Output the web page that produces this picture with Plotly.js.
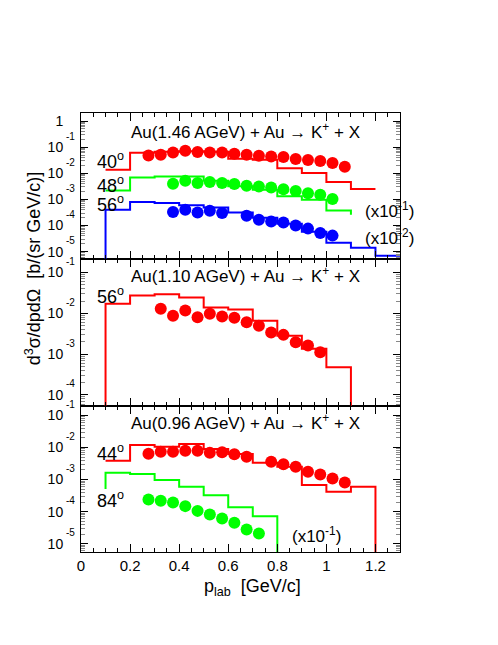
<!DOCTYPE html>
<html>
<head>
<meta charset="utf-8">
<script src="https://cdn.plot.ly/plotly-3.0.1.min.js"></script>
<style>
  html, body { margin: 0; padding: 0; background: #fff; }
  #chart { width: 498px; height: 645px; }
</style>
</head>
<body>
<div id="chart"></div>
<script>
// ---- Au(1.46 AGeV) + Au (top panel), b/(sr GeV/c) as plotted ----
const top40Edges = [0.1, 0.2, 0.3, 0.4, 0.5, 0.6, 0.7, 0.8, 0.9, 1.0, 1.1, 1.2];
const top40Hist  = [0.0136, 0.0610, 0.0667, 0.0697, 0.0667, 0.0360, 0.0329, 0.0155, 0.0102, 0.00460, 0.00248];
const top48Edges = [0.1, 0.2, 0.3, 0.4, 0.5, 0.6, 0.7, 0.8, 0.9, 1.0, 1.1];
const top48Hist  = [0.00219, 0.00690, 0.00754, 0.00754, 0.00516, 0.00318, 0.00233, 0.00131, 0.000966, 0.000376];
const top56Edges = [0.1, 0.2, 0.3, 0.4, 0.5, 0.6, 0.7, 0.8, 0.9, 1.0, 1.1, 1.2, 1.3];
const top56Hist  = [0.000400, 0.000788, 0.000722, 0.000594, 0.000490, 0.000315, 0.000197, 0.000116, 0.0000574, 0.0000217, 0.0000140, 0.0000069];

const top40P = [0.275, 0.325, 0.375, 0.425, 0.475, 0.525, 0.575, 0.625, 0.675, 0.725, 0.775, 0.825, 0.875, 0.925, 0.975, 1.025, 1.075];
const top40Y = [0.0481, 0.0512, 0.0627, 0.0728, 0.0649, 0.0627, 0.0627, 0.0558, 0.0512, 0.0468, 0.0441, 0.0422, 0.0353, 0.0321, 0.0293, 0.0246, 0.0177];
const top48P = [0.375, 0.425, 0.475, 0.525, 0.575, 0.625, 0.675, 0.725, 0.775, 0.825, 0.875, 0.925, 0.975, 1.025];
const top48Y = [0.00396, 0.00516, 0.00421, 0.00460, 0.00421, 0.00385, 0.00332, 0.00312, 0.00286, 0.00242, 0.00210, 0.00170, 0.00150, 0.00104];
const top56P = [0.375, 0.425, 0.475, 0.525, 0.575, 0.675, 0.725, 0.775, 0.825, 0.875, 0.925, 0.975, 1.025];
const top56Y = [0.000326, 0.000400, 0.000315, 0.000366, 0.000299, 0.000235, 0.000165, 0.000142, 0.000130, 0.0000991, 0.0000760, 0.0000512, 0.0000410];

// ---- Au(1.10 AGeV) + Au (middle panel) ----
const mid56Edges = [0.1, 0.2, 0.3, 0.4, 0.5, 0.6, 0.7, 0.8, 0.9, 1.0, 1.1];
const mid56Hist  = [0.0171, 0.0273, 0.0296, 0.0244, 0.0139, 0.0125, 0.00655, 0.00281, 0.00135, 0.000480];
const mid56P = [0.325, 0.375, 0.425, 0.475, 0.525, 0.575, 0.625, 0.675, 0.725, 0.775, 0.825, 0.875, 0.925, 0.975];
const mid56Y = [0.0129, 0.00869, 0.0117, 0.00807, 0.00973, 0.00836, 0.00776, 0.00609, 0.00494, 0.00338, 0.00297, 0.00197, 0.00163, 0.00112];

// ---- Au(0.96 AGeV) + Au (bottom panel) ----
const bot44Edges = [0.1, 0.2, 0.3, 0.4, 0.5, 0.6, 0.7, 0.8, 0.9, 1.0, 1.1, 1.2];
const bot44Hist  = [0.00387, 0.0120, 0.0106, 0.0129, 0.00897, 0.00626, 0.00335, 0.00251, 0.000673, 0.000416, 0.000596];
const bot84Edges = [0.1, 0.2, 0.3, 0.4, 0.5, 0.6, 0.7, 0.8];
const bot84Hist  = [0.00163, 0.00149, 0.000964, 0.000596, 0.000328, 0.000138, 0.0000723];
const bot44P = [0.275, 0.325, 0.375, 0.425, 0.475, 0.525, 0.575, 0.625, 0.675, 0.775, 0.825, 0.875, 0.925, 0.975, 1.025, 1.075];
const bot44Y = [0.00640, 0.00739, 0.00739, 0.00794, 0.00794, 0.00688, 0.00708, 0.00618, 0.00516, 0.00360, 0.00299, 0.00251, 0.00175, 0.00145, 0.00109, 0.000818];
const bot84P = [0.275, 0.325, 0.375, 0.425, 0.475, 0.525, 0.575, 0.625, 0.675, 0.725];
const bot84Y = [0.000240, 0.000218, 0.000194, 0.000149, 0.000106, 0.0000818, 0.0000613, 0.0000453, 0.0000280, 0.0000208];

// decades shown on each y axis
const topDecades = [0, -1, -2, -3, -4, -5];
const midDecades = [-1, -2, -3, -4];
const botDecades = [-1, -2, -3, -4, -5];

const BELOW = 1e-9;   // off-scale, gives the vertical edge of a histogram
const RED = '#ff0000', GREEN = '#00ff00', BLUE = '#0000ff';
const FONT = 'Liberation Sans, Arial, Helvetica, sans-serif';

// step line from bin edges + contents; lead/tail add the vertical end pieces
function hist(edges, vals, lead, tail, color, xa, ya) {
  const x = [], y = [];
  if (lead !== null) { x.push(edges[0]); y.push(lead); }
  vals.forEach((v, i) => { x.push(edges[i]); y.push(v); });
  x.push(edges[edges.length - 1]); y.push(vals[vals.length - 1]);
  if (tail !== null) { x.push(edges[edges.length - 1]); y.push(tail); }
  return { x, y, type: 'scatter', mode: 'lines', xaxis: xa, yaxis: ya,
           line: { color, width: 2, shape: 'hv' }, hoverinfo: 'skip' };
}

function dots(x, y, color, xa, ya) {
  return { x, y, type: 'scatter', mode: 'markers', xaxis: xa, yaxis: ya,
           marker: { color, size: 12, symbol: 'circle' } };
}

const data = [
  hist(top40Edges, top40Hist, null, null, RED, 'x3', 'y3'),
  hist(top48Edges, top48Hist, null, 0.000257, GREEN, 'x3', 'y3'),
  hist(top56Edges, top56Hist, BELOW, null, BLUE, 'x3', 'y3'),
  hist(mid56Edges, mid56Hist, BELOW, BELOW, RED, 'x2', 'y2'),
  hist(bot44Edges, bot44Hist, null, BELOW, RED, 'x', 'y'),
  hist(bot84Edges, bot84Hist, 0.000505, BELOW, GREEN, 'x', 'y'),
  dots(top40P, top40Y, RED, 'x3', 'y3'),
  dots(top48P, top48Y, GREEN, 'x3', 'y3'),
  dots(top56P, top56Y, BLUE, 'x3', 'y3'),
  dots(mid56P, mid56Y, RED, 'x2', 'y2'),
  dots(bot44P, bot44Y, RED, 'x', 'y'),
  dots(bot84P, bot84Y, GREEN, 'x', 'y')
];

function xAxis(anchor, labels) {
  return {
    range: [0, 1.3], anchor, matches: anchor === 'y' ? undefined : 'x',
    showline: true, linecolor: '#000', linewidth: 1, mirror: 'ticks',
    ticks: 'inside', ticklen: 8, tickcolor: '#000', tick0: 0, dtick: 0.2,
    minor: { ticks: 'inside', ticklen: 4, tickcolor: '#000', dtick: 0.05 },
    showgrid: false, zeroline: false, showticklabels: labels,
    tickfont: { size: 15, color: '#000' }
  };
}

// 2..9 x 10^d minor ticks for a log axis
function minorVals(decades) {
  const vals = [];
  const lo = Math.min(...decades) - 1, hi = Math.max(...decades) + 1;
  for (let d = lo; d <= hi; d++) {
    for (let m = 2; m <= 9; m++) vals.push(m * Math.pow(10, d));
  }
  return vals;
}

function yAxis(range, decades, domain, anchor) {
  return {
    type: 'log', range, domain, anchor,
    tickmode: 'array',
    tickvals: decades.map(d => Math.pow(10, d)),
    ticktext: decades.map(d => d === 0 ? '1' : '10'),
    showline: true, linecolor: '#000', linewidth: 1, mirror: 'ticks',
    ticks: 'inside', ticklen: 7, tickcolor: '#000',
    minor: { ticks: 'inside', ticklen: 4, tickcolor: '#888', tickmode: 'array', tickvals: minorVals(decades) },
    showgrid: false, zeroline: false,
    tickfont: { size: 14, color: '#000' }, ticklabelstandoff: 14
  };
}

// raised exponents next to the "10" tick labels
function exps(decades, yref) {
  return decades.filter(d => d !== 0).map(d => ({
    xref: 'paper', yref, x: -0.0125, y: d, xanchor: 'right', yanchor: 'middle',
    yshift: 11, text: String(d), showarrow: false, font: { size: 10, color: '#000' }
  }));
}

function note(text, x, y, size, xanchor) {
  return { xref: 'paper', yref: 'paper', x, y, text, showarrow: false,
           xanchor: xanchor || 'left', yanchor: 'middle', font: { size, color: '#000' } };
}

const annotations = [
  ...exps(topDecades, 'y3'), ...exps(midDecades, 'y2'), ...exps(botDecades, 'y'),
  note('Au(1.46 AGeV) + Au \u2192 K<sup>+</sup> + X', 0.5165, 0.958, 17, 'center'),
  note('Au(1.10 AGeV) + Au \u2192 K<sup>+</sup> + X', 0.5165, 0.630, 17, 'center'),
  note('Au(0.96 AGeV) + Au \u2192 K<sup>+</sup> + X', 0.5165, 0.296, 17, 'center'),
  note('40<sup>o</sup>', 0.044, 0.891, 18),
  note('48<sup>o</sup>', 0.044, 0.8365, 18),
  note('56<sup>o</sup>', 0.044, 0.7947, 18),
  note('56<sup>o</sup>', 0.044, 0.584, 18),
  note('44<sup>o</sup>', 0.044, 0.2258, 18),
  note('84<sup>o</sup>', 0.044, 0.1195, 18),
  note('(x10<sup>-1</sup>)', 0.885, 0.7795, 17),
  note('(x10<sup>-2</sup>)', 0.885, 0.7185, 17),
  note('(x10<sup>-1</sup>)', 0.654, 0.038, 17),
  note('p<sub>lab</sub>  [GeV/c]', 0.538, -0.08, 18, 'center'),
  { xref: 'paper', yref: 'paper', x: -0.1507, y: 0.646, textangle: -90,
    text: 'd<sup>3</sup>\u03c3/dpd\u03a9  [b/(sr GeV/c)]', showarrow: false,
    xanchor: 'center', yanchor: 'middle', font: { size: 18, color: '#000' } }
];

const layout = {
  width: 498, height: 645,
  margin: { l: 81, r: 98, t: 113, b: 93 },
  paper_bgcolor: '#fff', plot_bgcolor: '#fff',
  font: { family: FONT, color: '#000' },
  showlegend: false,
  xaxis: xAxis('y', true),
  xaxis2: xAxis('y2', false),
  xaxis3: xAxis('y3', false),
  yaxis: yAxis([-5.256, -0.697], botDecades, [0, 1 / 3], 'x'),
  yaxis2: yAxis([-4.262, -0.676], midDecades, [1 / 3, 2 / 3], 'x2'),
  yaxis3: yAxis([-5.295, 0.3065], topDecades, [2 / 3, 1], 'x3'),
  annotations
};

Plotly.newPlot('chart', data, layout, { displayModeBar: false, staticPlot: true });
</script>
</body>
</html>
